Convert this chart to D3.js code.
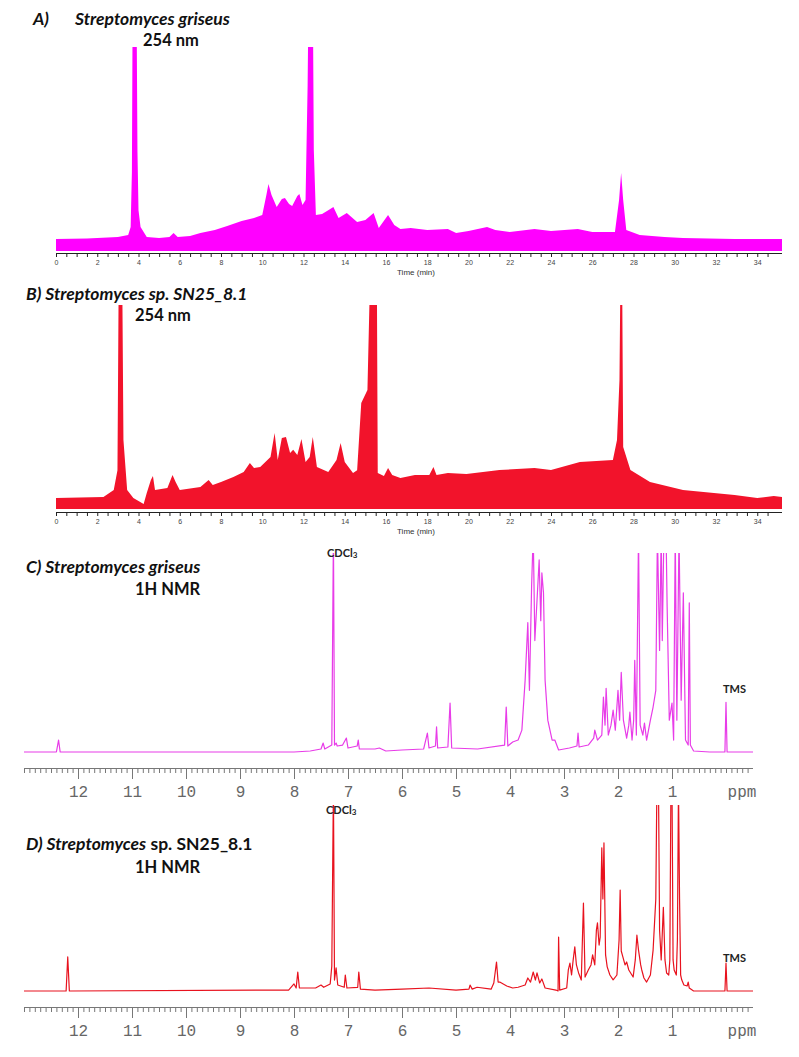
<!DOCTYPE html>
<html>
<head>
<meta charset="utf-8">
<script src="https://cdn.jsdelivr.net/npm/d3@7"></script>
<style>
  body { margin: 0; background: #fff; }
  svg { display: block; }
  .title { font-family: Lato, "Open Sans", sans-serif; font-weight: bold; font-size: 17.5px; fill: #111; }
  .sub { font-size: 16.5px; }
  .lbl { font-family: Lato, "Open Sans", sans-serif; font-weight: bold; font-size: 11px; fill: #222; }
  .hplc-axis text { font-family: Arial, "Liberation Sans", sans-serif; font-size: 7px; fill: #444; }
  .hplc-axis path, .hplc-axis line { stroke: #222; }
  .nmr-axis text { font-family: "Liberation Mono", "DejaVu Sans Mono", monospace; font-size: 16px; fill: #666; }
  .nmr-axis path, .nmr-axis line { stroke: #777; }
</style>
</head>
<body>
<div id="chart"></div>
<script>
// --- HPLC A: Streptomyces griseus, 254 nm (time in min, signal in % of full scale)
var timeA = [0, 1.5, 3.0, 3.5, 3.62, 3.68, 3.72, 3.9, 3.95, 4.0, 4.1, 4.4, 5.0, 5.5, 5.7, 5.9, 6.5, 7.0, 7.7, 8.3,
  9.0, 9.6, 10.0, 10.2, 10.3, 10.45, 10.7, 10.95, 11.1, 11.3, 11.45, 11.7, 11.8, 11.95, 12.1, 12.2, 12.25, 12.45, 12.5, 12.6,
  12.9, 13.2, 13.45, 13.7, 14.1, 14.6, 15.0, 15.4, 15.65, 16.1, 16.4, 16.7, 17.2, 18.0, 19.0, 19.4, 20.0, 20.9, 21.3, 22.0,
  23.2, 24.0, 25.3, 26.0, 27.1, 27.3, 27.4, 27.5, 27.65, 28.3, 29.5, 30.4, 32.9, 35.2];
var sigA = [5.9, 6.1, 6.9, 7.8, 11.8, 38.7, 130, 130, 48.5, 20, 11.8, 6.9, 6.4, 6.9, 8.8, 6.9, 7.4, 8.8, 10.3, 12.3,
  14.7, 16.2, 17.6, 27.5, 32.8, 27.5, 21.6, 25.5, 26, 23, 22, 27, 27.9, 22.5, 25, 81.4, 130, 130, 49.5, 17.6,
  18.1, 20, 21.6, 16.2, 18.6, 14.2, 15.2, 18.6, 11.3, 17.6, 12.7, 10.8, 11.3, 10.3, 10.8, 8.8, 9.8, 11.8, 10.3, 9.3,
  10.8, 9.8, 10.8, 9.3, 9.3, 25, 38.2, 25, 10.3, 7.8, 6.9, 6.4, 5.9, 5.9];

// --- HPLC B: Streptomyces sp. SN25_8.1, 254 nm
var timeB = [0, 2.3, 2.8, 2.98, 3.05, 3.2, 3.27, 3.45, 3.75, 4.25, 4.4, 4.6, 4.7, 4.8, 5.4, 5.65, 5.8, 6.0, 7.0, 7.4,
  7.6, 8.0, 8.6, 9.1, 9.4, 9.6, 9.9, 10.4, 10.6, 10.75, 10.95, 11.15, 11.35, 11.5, 11.7, 11.9, 12.1, 12.3, 12.45, 12.65,
  13.2, 13.6, 13.8, 14.0, 14.4, 14.6, 14.8, 15.1, 15.2, 15.25, 15.55, 15.6, 15.9, 16.1, 16.3, 16.7, 17.4, 18.1, 18.3, 18.45,
  19.0, 19.9, 21.5, 23.2, 24.0, 25.4, 27.0, 27.2, 27.32, 27.38, 27.44, 27.5, 27.85, 28.8, 30.4, 32.9, 34.0, 34.8, 35.2];
var sigB = [5.4, 5.9, 9.3, 19, 130, 130, 33.8, 9.3, 5.4, 2.5, 7.8, 14.2, 16.2, 9.3, 10.3, 16.7, 13.2, 9.3, 10.8, 14.2,
  11.8, 13.2, 15.7, 18.1, 22.5, 20.1, 20.6, 25.5, 37.3, 24, 34.8, 35.3, 27.5, 29, 26.5, 34.3, 23, 25.5, 35.3, 20.6,
  18.1, 24, 32.4, 23, 17.6, 19, 52, 58.3, 102, 130, 130, 17.6, 16.2, 20.1, 16.7, 15.2, 16.7, 16.7, 20.6, 16.7,
  17.6, 17.2, 19.1, 20.1, 19.1, 23, 24, 33.8, 63.2, 130, 130, 30.4, 19.1, 13.2, 9.3, 6.9, 5.4, 6.4, 5.9];

var timeTicks = d3.range(0, 35, 0.5);
var timeLabels = d3.range(0, 35, 2);

// --- 1H NMR C: Streptomyces griseus (ppm, intensity in % of full scale)
var ppmC = [13.0, 12.4, 12.36, 12.33, 8.0, 7.7, 7.5, 7.46, 7.43, 7.3, 7.27, 7.25, 7.22, 7.2, 7.1, 7.03, 7.0, 6.83, 6.81, 6.79,
  6.5, 6.42, 6.3, 6.0, 5.6, 5.53, 5.5, 5.38, 5.36, 5.34, 5.15, 5.11, 5.08, 4.6, 4.1, 4.07, 4.04, 3.95, 3.85, 3.78,
  3.72, 3.67, 3.64, 3.6, 3.57, 3.54, 3.5, 3.46, 3.43, 3.41, 3.38, 3.35, 3.3, 3.26, 3.22, 3.17, 3.1, 2.9, 2.76, 2.74,
  2.72, 2.55, 2.45, 2.43, 2.38, 2.3, 2.27, 2.24, 2.22, 2.18, 2.13, 2.09, 2.05, 2.0, 1.97, 1.94, 1.9, 1.84, 1.8, 1.78,
  1.74, 1.71, 1.69, 1.66, 1.62, 1.59, 1.54, 1.51, 1.47, 1.4, 1.35, 1.3, 1.27, 1.23, 1.2, 1.18, 1.15, 1.11, 1.09, 1.05,
  1.0, 0.97, 0.94, 0.91, 0.87, 0.83, 0.79, 0.75, 0.7, 0.68, 0.66, 0.6, 0.3, 0.02, 0.0, -0.02, -0.5];
var intC = [0, 0, 6, 0, 0, 0.5, 1.5, 4.5, 1.5, 3.5, 110, 3.5, 4.5, 3, 3.5, 7, 2, 3, 6, 1.5,
  1.5, 2, 0.5, 1, 1.5, 9.5, 2, 3, 12.6, 2, 2.5, 24.6, 2, 1.5, 3.5, 22.6, 3, 5, 6, 11,
  36, 65, 31, 83, 110, 56, 76, 96.5, 66, 90, 80, 36, 16, 11, 6, 6, 1, 2, 3, 9.5,
  2.5, 3.5, 7, 11, 6, 8.5, 27.6, 13.5, 32, 8.5, 13.5, 21, 11, 31, 16, 40, 16, 7, 13.5, 20,
  6, 16, 46, 8.5, 110, 13.5, 8.5, 14.5, 6, 16, 22.6, 31, 110, 51, 110, 56, 110, 110, 73, 16,
  24.6, 6, 110, 16, 110, 26, 80, 6, 3.5, 75, 3.5, 0.5, 0, 0, 25, 0, 0];

// --- 1H NMR D: Streptomyces sp. SN25_8.1
var ppmD = [13.0, 12.22, 12.19, 12.16, 8.1, 8.0, 7.96, 7.93, 7.9, 7.6, 7.5, 7.45, 7.33, 7.3, 7.27, 7.25, 7.22, 7.19, 7.07, 7.05,
  7.02, 6.82, 6.8, 6.77, 6.5, 6.0, 5.5, 5.0, 4.76, 4.74, 4.7, 4.61, 4.35, 4.3, 4.25, 4.22, 4.19, 4.06, 3.95, 3.85,
  3.72, 3.67, 3.62, 3.57, 3.53, 3.5, 3.45, 3.41, 3.35, 3.15, 3.11, 3.1, 3.08, 2.95, 2.92, 2.89, 2.86, 2.83, 2.8, 2.77,
  2.73, 2.68, 2.64, 2.61, 2.55, 2.5, 2.47, 2.43, 2.4, 2.38, 2.35, 2.33, 2.3, 2.28, 2.26, 2.23, 2.2, 2.15, 2.09, 2.02,
  1.98, 1.96, 1.94, 1.91, 1.87, 1.84, 1.8, 1.72, 1.68, 1.65, 1.62, 1.58, 1.56, 1.52, 1.47, 1.4, 1.35, 1.3, 1.28, 1.25,
  1.23, 1.2, 1.17, 1.16, 1.13, 1.1, 1.06, 1.04, 1.02, 1.0, 0.98, 0.96, 0.92, 0.9, 0.88, 0.86, 0.84, 0.82, 0.78, 0.72,
  0.7, 0.68, 0.6, 0.02, 0.0, -0.02, -0.5];
var intD = [0, 0, 18.3, 0, 0.5, 3.8, 1.6, 10.2, 1.6, 1.6, 3.2, 2, 3.8, 13.4, 110, 5.9, 12.4, 3.2, 2, 8.6,
  1.6, 2, 10.2, 1, 0.5, 1, 1.6, 0.5, 1, 3.2, 1, 2, 1, 4.3, 15.6, 4.8, 4.8, 2.7, 1.6, 2,
  3.2, 7, 4.8, 10.2, 5.9, 9.7, 4.3, 6.5, 1.6, 0.5, 0, 29, 0.5, 1.6, 11.3, 15, 8.6, 16.7, 23.7, 14,
  9.7, 5.9, 47.3, 7.5, 11.3, 14, 19.4, 14, 32.8, 36.6, 24.7, 29, 77, 49.5, 79.6, 19.4, 13, 8.6, 6, 8.6,
  27.4, 54.3, 21.5, 18.3, 14, 15.6, 11.3, 7.5, 16.7, 30, 22, 14, 11.3, 7, 4.8, 8.6, 22, 49.5, 110, 110,
  32.8, 16.7, 38, 45, 16.7, 9.7, 8.6, 16.7, 110, 110, 16.7, 11.3, 8.6, 27.4, 110, 49.5, 8.6, 6, 3.2, 2.7,
  4.8, 1.6, 0, 0, 15, 0, 0];

var ppmLabels = d3.range(1, 13);
var ppmMinor = d3.range(0, 131).map(function (i) { return (130 - i) / 10; }).concat([-0.1, -0.2, -0.3, -0.4]);

var W = 799, H = 1057;
var svg = d3.select('#chart').append('svg').attr('width', W).attr('height', H);
var defs = svg.append('defs');

// shared x scales
var xTime = d3.scaleLinear().domain([0, 35.2]).range([56, 782]);
var xPpm = d3.scaleLinear().domain([13, -0.5]).range([24, 753]);

function clipFor(id, top, bottom) {
  defs.append('clipPath').attr('id', id)
    .append('rect').attr('x', 0).attr('y', top).attr('width', W).attr('height', bottom - top);
  return 'url(#' + id + ')';
}

// HPLC panel: filled chromatogram + time axis
function hplcPanel(id, times, sig, y0, y1, axisY, color) {
  var y = d3.scaleLinear().domain([0, 100]).range([y0, y1]);
  var pts = times.map(function (t, i) { return [t, sig[i]]; });
  var area = d3.area()
    .x(function (d) { return xTime(d[0]); })
    .y0(y(0))
    .y1(function (d) { return y(d[1]); });

  svg.append('path')
    .datum(pts)
    .attr('clip-path', clipFor(id, y1, y0 + 1))
    .attr('fill', color)
    .attr('d', area);

  var axis = d3.axisBottom(xTime)
    .tickValues(timeTicks)
    .tickSize(4)
    .tickPadding(3)
    .tickFormat(function (d) { return timeLabels.indexOf(d) >= 0 ? d : ''; });
  svg.append('g')
    .attr('class', 'hplc-axis')
    .attr('transform', 'translate(0,' + axisY + ')')
    .call(axis)
    .call(function (g) { g.select('.domain').attr('d', 'M56,0.5H782'); });

  svg.append('text')
    .attr('x', 416).attr('y', axisY + 22)
    .attr('text-anchor', 'middle')
    .style('font-family', 'Arial, "Liberation Sans", sans-serif')
    .style('font-size', '8px')
    .style('fill', '#333')
    .text('Time (min)');
}

// NMR panel: spectrum line + ppm axis
function nmrPanel(id, ppm, ints, y0, y1, axisY, color) {
  var y = d3.scaleLinear().domain([0, 100]).range([y0, y1]);
  var pts = ppm.map(function (p, i) { return [p, ints[i]]; });
  var line = d3.line()
    .x(function (d) { return xPpm(d[0]); })
    .y(function (d) { return y(d[1]); });

  svg.append('path')
    .datum(pts)
    .attr('clip-path', clipFor(id, y1, y0 + 5))
    .attr('fill', 'none')
    .attr('stroke', color)
    .attr('stroke-width', 1.2)
    .attr('stroke-linejoin', 'round')
    .attr('d', line);

  // minor ticks every 0.1 ppm
  svg.append('g')
    .attr('class', 'nmr-axis')
    .attr('transform', 'translate(0,' + axisY + ')')
    .call(d3.axisBottom(xPpm).tickValues(ppmMinor).tickSize(5).tickFormat(''))
    .call(function (g) { g.select('.domain').remove(); });

  var major = svg.append('g')
    .attr('class', 'nmr-axis')
    .attr('transform', 'translate(0,' + axisY + ')')
    .call(d3.axisBottom(xPpm).tickValues(ppmLabels).tickSize(11).tickPadding(7).tickFormat(d3.format('d')))
    .call(function (g) { g.select('.domain').attr('d', 'M24,0.5H753'); });

  major.append('text')
    .attr('x', 742).attr('y', 18).attr('dy', '0.71em')
    .attr('text-anchor', 'middle')
    .text('ppm');
}

hplcPanel('clipA', timeA, sigA, 251, 47, 253, '#ff00ff');
hplcPanel('clipB', timeB, sigB, 509, 305, 512, '#f2132b');
nmrPanel('clipC', ppmC, intC, 752, 553, 768, '#e83ce8');
nmrPanel('clipD', ppmD, intD, 991, 805, 1007, '#e8121e');

// panel titles
function title(x, y, parts, cls) {
  var t = svg.append('text').attr('class', cls || 'title').attr('x', x).attr('y', y);
  parts.forEach(function (p) {
    t.append('tspan').style('font-style', p[1] ? 'italic' : 'normal').text(p[0]);
  });
}
title(33, 25, [['A)', true]]);
title(75, 25, [['Streptomyces griseus', true]]);
title(143, 46, [['254 nm', false]], 'title sub');

title(26, 300, [['B)  Streptomyces sp. SN25_8.1', true]]);
title(135, 321, [['254 nm', false]], 'title sub');

title(26, 573, [['C)  Streptomyces griseus', true]]);
title(135, 595, [['1H NMR', false]], 'title sub');

title(26, 850, [['D)  Streptomyces', true], [' sp. SN25_8.1', false]]);
title(135, 873, [['1H NMR', false]], 'title sub');

// peak labels
function cdcl3(x, y) {
  var t = svg.append('text').attr('class', 'lbl').attr('x', x).attr('y', y);
  t.append('tspan').text('CDCl');
  t.append('tspan').style('font-size', '8px').attr('dy', 1).text('3');
}
cdcl3(327, 557);
cdcl3(326, 814);

svg.append('text').attr('class', 'lbl').attr('x', 723).attr('y', 693).text('TMS');
svg.append('text').attr('class', 'lbl').attr('x', 723).attr('y', 962).text('TMS');
</script>
</body>
</html>
